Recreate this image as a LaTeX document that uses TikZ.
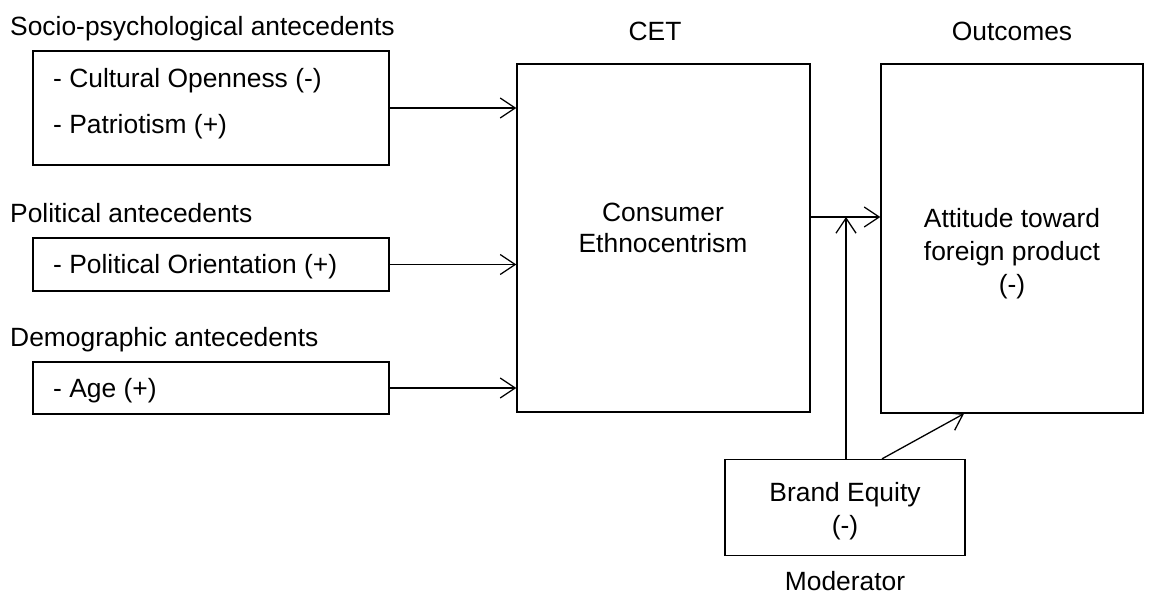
\documentclass[tikz,border=0pt]{standalone}
\usepackage{fontspec}
\setmainfont{Liberation Sans}
\usetikzlibrary{arrows.meta}
\begin{document}
\begin{tikzpicture}[x=1pt,y=-1pt,
  box/.style={draw,line width=1.3pt,inner sep=0pt,rectangle},
  lbl/.style={inner sep=0pt,font=\fontsize{26.4}{31}\selectfont},
  conn/.style={line width=1.3pt,-{Straight Barb[length=15pt,width=20pt,line width=1.3pt]}}]
\useasboundingbox (0,0) rectangle (1157,600);
% boxes
\node[box,minimum width=356pt,minimum height=114pt] (soc) at (211,108) {};
\node[box,minimum width=356pt,minimum height=53pt] (pol) at (211,264.5) {};
\node[box,minimum width=356pt,minimum height=52pt] (dem) at (211,388) {};
\node[box,minimum width=293pt,minimum height=348pt] (cet) at (663.5,238) {};
\node[box,minimum width=262pt,minimum height=349pt] (out) at (1012,238.5) {};
\node[box,minimum width=240pt,minimum height=96pt] (brand) at (845,507.5) {};
% labels
\node[lbl,anchor=base west] (tsoc) at (10,35) {Socio-psychological antecedents};
\node[lbl,anchor=base west] (t1) at (53,87) {- Cultural Openness (-)};
\node[lbl,anchor=base west] (t2) at (53,133) {- Patriotism (+)};
\node[lbl,anchor=base west] (tpol) at (10,222) {Political antecedents};
\node[lbl,anchor=base west] (t3) at (53,273) {- Political Orientation (+)};
\node[lbl,anchor=base west] (tdem) at (10,346) {Demographic antecedents};
\node[lbl,anchor=base west] (t4) at (53,397) {- Age (+)};
\node[lbl,anchor=base] (tcet) at (655,40) {CET};
\node[lbl,anchor=base] (tout) at (1012,40) {Outcomes};
\node[lbl,anchor=base] (c1) at (663,221) {Consumer};
\node[lbl,anchor=base] (c2) at (663,252) {Ethnocentrism};
\node[lbl,anchor=base] (o1) at (1012,227) {Attitude toward};
\node[lbl,anchor=base] (o2) at (1012,260) {foreign product};
\node[lbl,anchor=base] (o3) at (1012,293) {(-)};
\node[lbl,anchor=base] (b1) at (845,501) {Brand Equity};
\node[lbl,anchor=base] (b2) at (845,534) {(-)};
\node[lbl,anchor=base] (tmod) at (845,590) {Moderator};
% connectors
\coordinate (j) at (846,217);
\draw[conn] (soc.east) -- (soc.east -| cet.west);
\draw[conn] (pol.east) -- (pol.east -| cet.west);
\draw[conn] (dem.east) -- (dem.east -| cet.west);
\draw[conn] (j -| cet.east) -- (j -| out.west);
\draw[conn] (brand.north -| j) -- (j);
\draw[conn] ([xshift=37pt]brand.north) -- ([xshift=-48pt]out.south);
\end{tikzpicture}
\end{document}
